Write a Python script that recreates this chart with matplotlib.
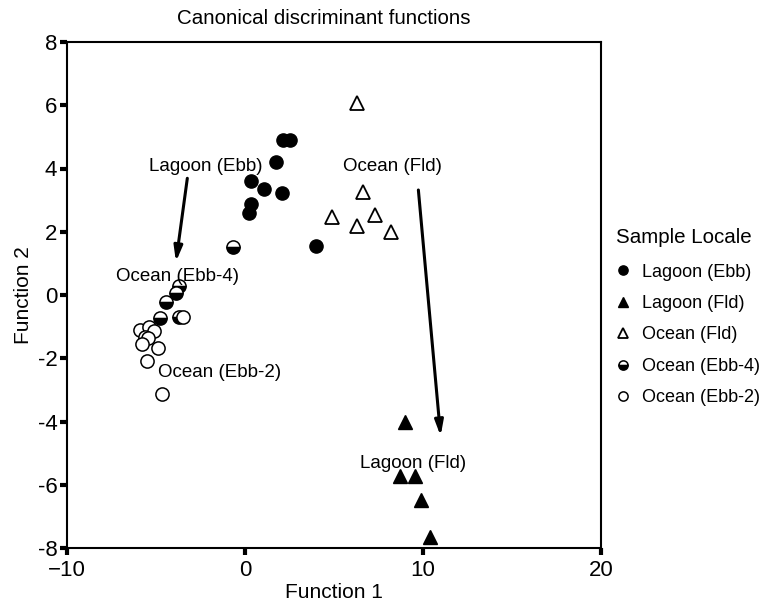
import matplotlib
matplotlib.use("Agg")
import matplotlib.pyplot as plt

plt.rcParams['font.family'] = ['Liberation Sans', 'DejaVu Sans']

# Data (Function 1, Function 2)
lagoon_ebb_x = [2.13, 2.53, 1.74, 0.32, 1.08, 2.08, 0.32, 0.24, 3.99]
lagoon_ebb_y = [4.90, 4.90, 4.22, 3.62, 3.36, 3.22, 2.88, 2.60, 1.55]

lagoon_fld_x = [8.99, 8.71, 9.55, 9.87, 10.39]
lagoon_fld_y = [-4.03, -5.73, -5.73, -6.47, -7.65]

ocean_fld_x = [6.28, 6.65, 4.87, 7.30, 6.31, 8.20]
ocean_fld_y = [6.07, 3.27, 2.48, 2.53, 2.18, 2.00]

ocean_ebb4_x = [-0.69, -3.71, -3.89, -4.46, -4.79, -3.69]
ocean_ebb4_y = [1.53, 0.28, 0.07, -0.23, -0.72, -0.69]

ocean_ebb2_x = [-3.47, -5.90, -5.39, -5.10, -5.62, -5.47, -5.77, -4.90, -5.52, -4.68]
ocean_ebb2_y = [-0.69, -1.11, -1.00, -1.14, -1.32, -1.35, -1.55, -1.69, -2.08, -3.13]

x_ticks = [-10, 0, 10, 20]
y_ticks = [-8, -6, -4, -2, 0, 2, 4, 6, 8]

fig = plt.figure(figsize=(7.65, 6.07), dpi=100)
ax = fig.add_axes([67/765, 1-548/607, (601-67)/765, (548-42)/607])

ms = 9.5
ax.plot(lagoon_ebb_x, lagoon_ebb_y, 'o', ms=ms, color='black', mfc='black', mec='black',
        label='Lagoon (Ebb)', linestyle='none')
ax.plot(lagoon_fld_x, lagoon_fld_y, '^', ms=ms, color='black', mfc='black', mec='black',
        label='Lagoon (Fld)', linestyle='none')
ax.plot(ocean_fld_x, ocean_fld_y, '^', ms=ms, mfc='white', mec='black', mew=1.3,
        label='Ocean (Fld)', linestyle='none')
ax.plot(ocean_ebb4_x, ocean_ebb4_y, 'o', ms=ms, mfc='black', mfcalt='white', fillstyle='bottom',
        mec='black', mew=1.1, label='Ocean (Ebb-4)', linestyle='none')
ax.plot(ocean_ebb2_x, ocean_ebb2_y, 'o', ms=ms, mfc='white', mec='black', mew=1.1,
        label='Ocean (Ebb-2)', linestyle='none')

ax.set_xlim(-10, 20)
ax.set_ylim(-8, 8)
ax.set_xticks(x_ticks)
ax.set_yticks(y_ticks)
ax.tick_params(axis='both', direction='out', length=5, width=3, labelsize=16, pad=2)
ax.tick_params(axis='x', pad=4)
ax.set_xticklabels([str(t).replace('-', '\u2212') for t in x_ticks])
ax.set_yticklabels([str(t) for t in y_ticks])
for s in ax.spines.values():
    s.set_linewidth(1.5)

ax.set_xlabel('Function 1', fontsize=15, labelpad=1)
ax.set_ylabel('Function 2', fontsize=15, labelpad=3)
fig.text(324/765, 1-18/607, 'Canonical discriminant functions', fontsize=14.8,
         ha='center', va='center')

aprops = dict(arrowstyle='-|>,head_length=0.9,head_width=0.25', lw=2.2, color='black',
              shrinkA=0, shrinkB=0)
ax.annotate('', xy=(-3.88, 1.05), xytext=(-3.24, 3.69), arrowprops=aprops)
ax.annotate('', xy=(10.99, -4.46), xytext=(9.74, 3.32), arrowprops=aprops)

afs = 13.5
ax.text(-2.19, 4.05, 'Lagoon (Ebb)', fontsize=afs, ha='center', va='center')
ax.text(-3.79, 0.58, 'Ocean (Ebb-4)', fontsize=afs, ha='center', va='center')
ax.text(-1.43, -2.46, 'Ocean (Ebb-2)', fontsize=afs, ha='center', va='center')
ax.text(8.29, 4.06, 'Ocean (Fld)', fontsize=afs, ha='center', va='center')
ax.text(9.44, -5.33, 'Lagoon (Fld)', fontsize=afs, ha='center', va='center')

leg = ax.legend(loc='upper left', bbox_to_anchor=(1.015, 0.647), frameon=False,
                title='Sample Locale', fontsize=13, title_fontsize=14.8,
                markerscale=0.7, handlelength=0.8, handletextpad=0.6,
                labelspacing=0.8, borderaxespad=0)
leg._legend_box.align = 'left'
leg._legend_box.sep = 12

fig.savefig('out.png', dpi=100)
